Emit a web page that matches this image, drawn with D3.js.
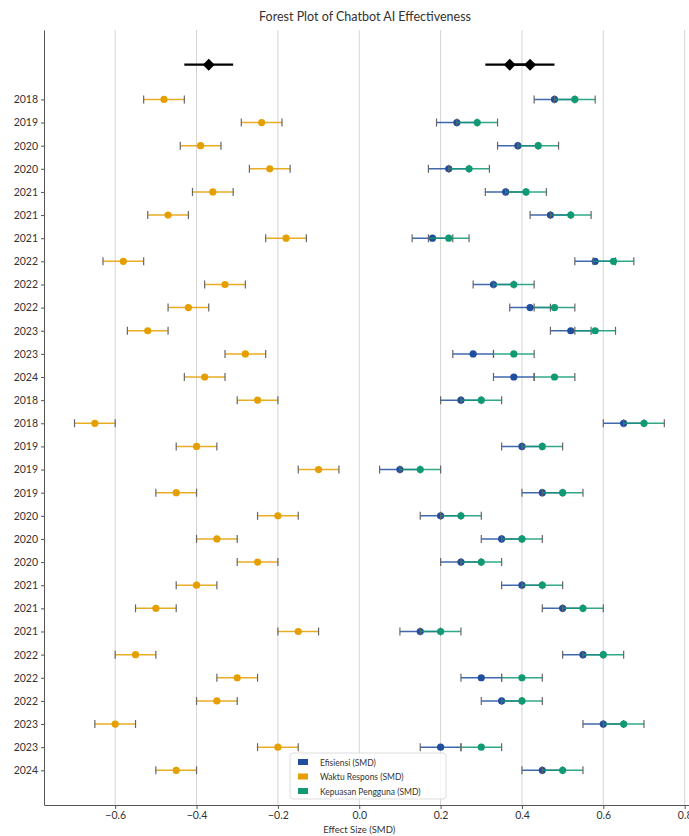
<!DOCTYPE html>
<html>
<head>
<meta charset="utf-8">
<script src="https://cdn.jsdelivr.net/npm/d3@7"></script>
<style>
  body { margin: 0; background: #fff; }
  text { font-family: Lato, "Open Sans", sans-serif; }
</style>
</head>
<body>
<div id="chart"></div>
<script>
// study labels, top to bottom
var years = ["2018","2019","2020","2020","2021","2021","2021","2022","2022","2022","2023","2023","2024",
             "2018","2018","2019","2019","2019","2020","2020","2020","2021","2021","2021","2022","2022","2022","2023","2023","2024"]

// effect sizes (SMD), half-width of CI is 0.05 for each study
var efisiensi = [0.48,0.24,0.39,0.22,0.36,0.47,0.18,0.58,0.33,0.42,0.52,0.28,0.38,
                 0.25,0.65,0.40,0.10,0.45,0.20,0.35,0.25,0.40,0.50,0.15,0.55,0.30,0.35,0.60,0.20,0.45]
var waktu = [-0.48,-0.24,-0.39,-0.22,-0.36,-0.47,-0.18,-0.58,-0.33,-0.42,-0.52,-0.28,-0.38,
             -0.25,-0.65,-0.40,-0.10,-0.45,-0.20,-0.35,-0.25,-0.40,-0.50,-0.15,-0.55,-0.30,-0.35,-0.60,-0.20,-0.45]
var kepuasan = [0.53,0.29,0.44,0.27,0.41,0.52,0.22,0.625,0.38,0.48,0.58,0.38,0.48,
                0.30,0.70,0.45,0.15,0.50,0.25,0.40,0.30,0.45,0.55,0.20,0.60,0.40,0.40,0.65,0.30,0.50]
var ciHalf = 0.05

// pooled estimates [mean, low, high]
var summaryNames = ["Efisiensi (SMD)", "Waktu Respons (SMD)", "Kepuasan Pengguna (SMD)"]
var summaryVals = [[0.37, 0.31, 0.43], [-0.37, -0.43, -0.31], [0.42, 0.36, 0.48]]

var xTicks = [-0.6, -0.4, -0.2, 0.0, 0.2, 0.4, 0.6, 0.8]
var colors = ["#1f4e9e", "#e69f00", "#0f9a74"]

var W = 689, H = 836

var svg = d3.select("#chart").append("svg")
  .attr("width", W).attr("height", H)

var x = d3.scaleLinear().domain([-0.775, 0.85]).range([44, 705])
var y = d3.scaleLinear().domain([-3, 30.5]).range([30, 805])

// grid
svg.append("g").selectAll("line")
  .data(xTicks).enter().append("line")
  .attr("x1", function(d) { return x(d) }).attr("x2", function(d) { return x(d) })
  .attr("y1", y(-3)).attr("y2", y(30.5))
  .style("stroke", "#d4d4d4").style("stroke-width", 1)

// axes
var xAxis = svg.append("g")
  .attr("transform", "translate(0," + y(30.5) + ")")
  .call(d3.axisBottom(x).tickValues(xTicks).tickFormat(d3.format(".1f")).tickSize(4).tickSizeOuter(0))
xAxis.select(".domain").style("stroke", "#555")
xAxis.selectAll("line").style("stroke", "#555")
xAxis.selectAll("text").style("font-size", "10.5px").style("fill", "#333")
  .text(function(d) { return d3.format(".1f")(d).replace("-", "\u2212") })

var yAxis = svg.append("g")
  .attr("transform", "translate(" + x(-0.775) + ",0)")
  .call(d3.axisLeft(y).tickValues(d3.range(years.length)).tickFormat(function(i) { return years[i] }).tickSize(3).tickSizeOuter(0))
yAxis.select(".domain").style("stroke", "#555")
yAxis.selectAll("line").style("stroke", "#555")
yAxis.selectAll("text").style("font-size", "10.5px").style("fill", "#333")

// study rows
var series = [
  { vals: waktu, color: colors[1] },
  { vals: efisiensi, color: colors[0] },
  { vals: kepuasan, color: colors[2] }
]

series.forEach(function(s) {
  var g = svg.append("g")
  var rows = g.selectAll("g.row")
    .data(s.vals).enter().append("g").attr("class", "row")

  rows.append("line")
    .attr("x1", function(d) { return x(d - ciHalf) })
    .attr("x2", function(d) { return x(d + ciHalf) })
    .attr("y1", function(d, i) { return y(i) })
    .attr("y2", function(d, i) { return y(i) })
    .style("stroke", s.color).style("stroke-width", 1.5).style("opacity", 0.85)

  ;[-ciHalf, ciHalf].forEach(function(off) {
    rows.append("line")
      .attr("x1", function(d) { return x(d + off) })
      .attr("x2", function(d) { return x(d + off) })
      .attr("y1", function(d, i) { return y(i) - 4 })
      .attr("y2", function(d, i) { return y(i) + 4 })
      .style("stroke", "#666").style("stroke-width", 1.2)
  })

  rows.append("circle")
    .attr("cx", function(d) { return x(d) })
    .attr("cy", function(d, i) { return y(i) })
    .attr("r", 3.6)
    .style("fill", s.color)
})

// pooled estimates
var sumG = svg.append("g")
summaryVals.forEach(function(v) {
  sumG.append("line")
    .attr("x1", x(v[1])).attr("x2", x(v[2]))
    .attr("y1", y(-1.5)).attr("y2", y(-1.5))
    .style("stroke", "#000").style("stroke-width", 2.2)
  sumG.append("path")
    .attr("d", d3.symbol().type(d3.symbolDiamond2).size(90)())
    .attr("transform", "translate(" + x(v[0]) + "," + y(-1.5) + ")")
    .style("fill", "#000")
})

// title and label
svg.append("text")
  .attr("x", 365).attr("y", 21)
  .attr("text-anchor", "middle")
  .style("font-size", "12.5px").style("fill", "#333")
  .text("Forest Plot of Chatbot AI Effectiveness")

svg.append("text")
  .attr("x", x(0)).attr("y", 833)
  .attr("text-anchor", "middle")
  .style("font-size", "9.5px").style("fill", "#333")
  .text("Effect Size (SMD)")

// legend
var leg = svg.append("g").attr("transform", "translate(290,753)")
leg.append("rect")
  .attr("width", 156).attr("height", 46).attr("rx", 3)
  .style("fill", "#fff").style("fill-opacity", 0.85)
  .style("stroke", "#ddd")
summaryNames.forEach(function(name, i) {
  leg.append("rect")
    .attr("x", 8).attr("y", 6 + i * 14.5)
    .attr("width", 10).attr("height", 6)
    .style("fill", colors[i])
  leg.append("text")
    .attr("x", 30).attr("y", 12.5 + i * 14.5)
    .style("font-size", "8.5px").style("fill", "#333")
    .text(name)
})
</script>
</body>
</html>
